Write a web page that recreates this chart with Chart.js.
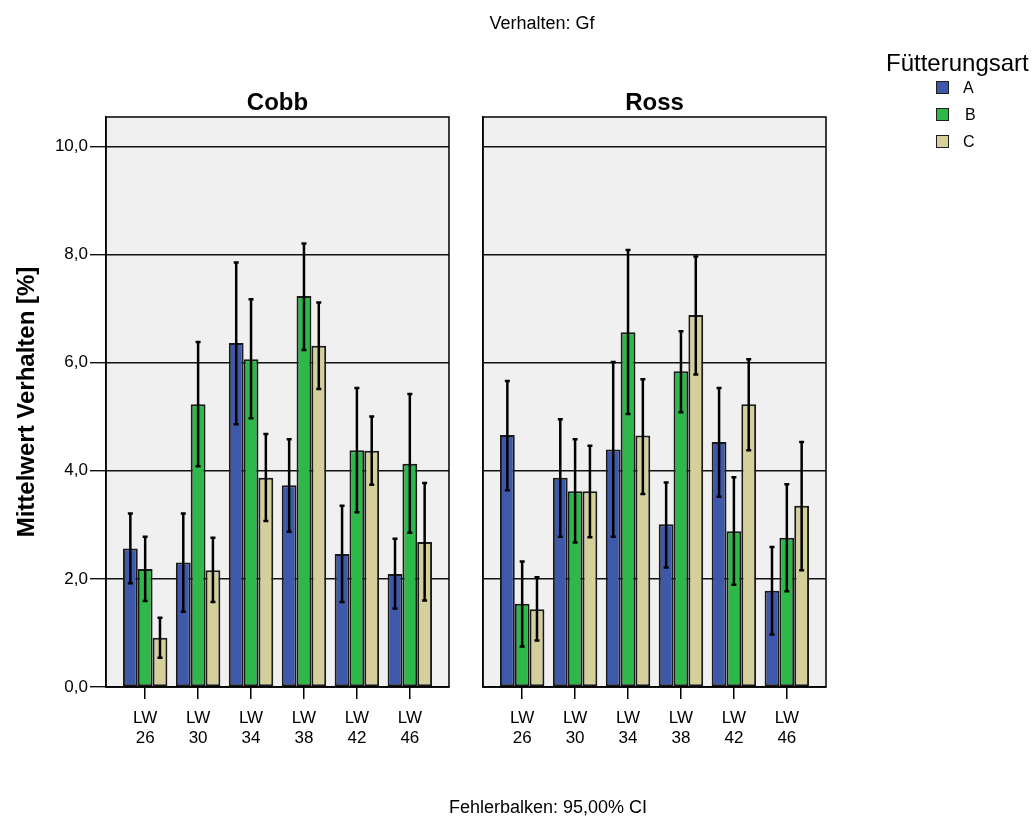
<!DOCTYPE html>
<html>
<head>
<meta charset="utf-8">
<script src="https://cdn.jsdelivr.net/npm/chart.js@4/dist/chart.umd.min.js"></script>
<style>
	body { margin: 0; background: #fff; font-family: 'Liberation Sans', Arial, sans-serif; }
	#wrap { position: relative; width: 1035px; height: 819px; overflow: hidden; }
	canvas { position: absolute; left: 0; top: 0; }
	.txt { position: absolute; white-space: nowrap; color: #000; }
	.legItem { position: absolute; font-size: 16px; line-height: 16px; }
	.legBox { position: absolute; width: 11px; height: 11px; border: 1.5px solid #1e1e1e; }
</style>
</head>
<body>
<div id="wrap">
	<canvas id="cobbChart" width="1035" height="819"></canvas>
	<canvas id="rossChart" width="1035" height="819"></canvas>
	<div class="txt" style="left:0;width:1084px;text-align:center;top:14px;font-size:18px;line-height:18px;">Verhalten: Gf</div>
	<div class="txt" style="left:106px;width:343px;text-align:center;top:90px;font-size:24px;line-height:24px;font-weight:bold;">Cobb</div>
	<div class="txt" style="left:483px;width:343px;text-align:center;top:90px;font-size:24px;line-height:24px;font-weight:bold;">Ross</div>
	<div class="txt" style="left:0;width:1096px;text-align:center;top:798px;font-size:18px;line-height:18px;">Fehlerbalken: 95,00% CI</div>
	<div id="legend"></div>
</div>
<script>
'use strict';
// *** Data ***
const categories = ['26', '30', '34', '38', '42', '46'];
const groups = ['A', 'B', 'C'];
const groupColors = ['rgb(62, 88, 170)', 'rgb(47, 184, 74)', 'rgb(212, 207, 155)'];

const cobbA = [2.56, 2.30, 6.36, 3.73, 2.46, 2.09];
const cobbALo = [1.92, 1.39, 4.86, 2.87, 1.57, 1.45];
const cobbAHi = [3.21, 3.21, 7.85, 4.58, 3.35, 2.74];
const cobbB = [2.18, 5.23, 6.06, 7.23, 4.38, 4.13];
const cobbBLo = [1.59, 4.08, 4.97, 6.23, 3.23, 2.85];
const cobbBHi = [2.78, 6.38, 7.17, 8.20, 5.53, 5.42];
const cobbC = [0.91, 2.16, 3.87, 6.31, 4.37, 2.68];
const cobbCLo = [0.54, 1.57, 3.07, 5.51, 3.74, 1.60];
const cobbCHi = [1.28, 2.76, 4.68, 7.11, 5.00, 3.77];

const rossA = [4.66, 3.87, 4.39, 3.01, 4.53, 1.78];
const rossALo = [3.64, 2.78, 2.78, 2.21, 3.52, 0.97];
const rossAHi = [5.66, 4.95, 6.01, 3.78, 5.53, 2.59];
const rossB = [1.54, 3.62, 6.56, 5.84, 2.88, 2.76];
const rossBLo = [0.75, 2.67, 5.05, 5.08, 1.89, 1.77];
const rossBHi = [2.32, 4.58, 8.08, 6.58, 3.88, 3.75];
const rossC = [1.44, 3.62, 4.65, 6.88, 5.23, 3.35];
const rossCLo = [0.86, 2.77, 3.57, 5.78, 4.38, 2.16];
const rossCHi = [2.03, 4.46, 5.69, 7.96, 6.06, 4.53];

const yTicks = [0, 2, 4, 6, 8, 10];

const FONT = "'Liberation Sans', Arial, sans-serif";

function makeDataSets(means, los, his) {
	return means.map((vals, k) => ({
		label: groups[k],
		backgroundColor: groupColors[k],
		borderColor: '#1a1a1a',
		borderWidth: 2,
		borderSkipped: false,
		categoryPercentage: 0.84,
		barPercentage: 1.0,
		data: vals.map((v, i) => ({ x: i, y: v })),
		errLo: los[k],
		errHi: his[k],
	}));
}

// panel background, frame and error bars
const panelPlugin = {
	id: 'panel',
	beforeDraw(chart) {
		const a = chart.chartArea;
		const ctx = chart.ctx;
		ctx.save();
		ctx.fillStyle = '#f0f0f0';
		ctx.fillRect(a.left, a.top, a.right - a.left, a.bottom - a.top);
		ctx.restore();
	},
	afterDatasetsDraw(chart) {
		const ctx = chart.ctx;
		const yScale = chart.scales.y;
		ctx.save();
		ctx.strokeStyle = '#000';
		ctx.lineWidth = 2.5;
		chart.data.datasets.forEach((ds, k) => {
			const meta = chart.getDatasetMeta(k);
			meta.data.forEach((bar, i) => {
				const x = bar.x;
				const yLo = yScale.getPixelForValue(ds.errLo[i]);
				const yHi = yScale.getPixelForValue(ds.errHi[i]);
				ctx.beginPath();
				ctx.moveTo(x, yLo);
				ctx.lineTo(x, yHi);
				ctx.moveTo(x - 2.5, yLo);
				ctx.lineTo(x + 2.5, yLo);
				ctx.moveTo(x - 2.5, yHi);
				ctx.lineTo(x + 2.5, yHi);
				ctx.stroke();
			});
		});
		ctx.restore();
	},
	afterDraw(chart) {
		const a = chart.chartArea;
		const ctx = chart.ctx;
		ctx.save();
		ctx.strokeStyle = '#000';
		ctx.lineWidth = 1.5;
		ctx.strokeRect(a.left, a.top, a.right - a.left, a.bottom - a.top);
		ctx.restore();
	},
};

function makeOptions(yWidth, padRight, showY) {
	return {
		responsive: false,
		animation: false,
		layout: { padding: { top: 117, right: padRight, bottom: 0, left: 0 } },
		plugins: { legend: { display: false }, tooltip: { enabled: false } },
		scales: {
			x: {
				type: 'linear',
				min: -0.74,
				max: 5.74,
				offset: false,
				afterFit: (scale) => { scale.height = 132; },
				grid: { offset: false, drawOnChartArea: false, drawTicks: true, tickLength: 12, color: '#000', lineWidth: 1.5 },
				border: { display: true, color: '#000', width: 1.5 },
				ticks: {
					stepSize: 1,
					includeBounds: false,
					autoSkip: false,
					maxRotation: 0,
					padding: 9,
					color: '#000',
					font: { family: FONT, size: 17, lineHeight: 1.2 },
					callback: (v) => (Number.isInteger(v) && v >= 0 && v < categories.length) ? ['LW', categories[v]] : '',
				},
			},
			y: {
				min: 0,
				max: 10.54,
				afterFit: (scale) => { scale.width = yWidth; },
				afterBuildTicks: (scale) => { scale.ticks = yTicks.map((v) => ({ value: v })); },
				grid: { color: '#111', lineWidth: 1.4, drawTicks: showY, tickLength: 16 },
				border: { display: true, color: '#000', width: 1.5 },
				ticks: {
					display: showY,
					padding: 2,
					color: '#000',
					font: { family: FONT, size: 17 },
					callback: (v) => v.toFixed(1).replace('.', ','),
				},
				title: {
					display: showY,
					text: 'Mittelwert Verhalten [%]',
					color: '#000',
					padding: { top: 13, bottom: 0 },
					font: { family: FONT, size: 24, weight: 'bold', lineHeight: 1.2 },
				},
			},
		},
	};
}

// *** Entry Point ***
new Chart(document.getElementById('cobbChart'), {
	type: 'bar',
	data: { datasets: makeDataSets([cobbA, cobbB, cobbC], [cobbALo, cobbBLo, cobbCLo], [cobbAHi, cobbBHi, cobbCHi]) },
	options: makeOptions(106, 1035 - 449, true),
	plugins: [panelPlugin],
});

new Chart(document.getElementById('rossChart'), {
	type: 'bar',
	data: { datasets: makeDataSets([rossA, rossB, rossC], [rossALo, rossBLo, rossCLo], [rossAHi, rossBHi, rossCHi]) },
	options: makeOptions(483, 1035 - 826, false),
	plugins: [panelPlugin],
});

// legend
const legend = document.getElementById('legend');
let html = '<div class="txt" style="left:886px;top:51px;font-size:24px;line-height:24px;">Fütterungsart</div>';
groups.forEach((g, k) => {
	const yc = 88 + k * 27;
	html += `<div class="legBox" style="left:936px;top:${yc - 7}px;background:${groupColors[k]};"></div>`;
	html += `<div class="txt legItem" style="left:${k === 1 ? 965 : 963}px;top:${yc - 8}px;">${g}</div>`;
});
legend.innerHTML = html;
</script>
</body>
</html>
